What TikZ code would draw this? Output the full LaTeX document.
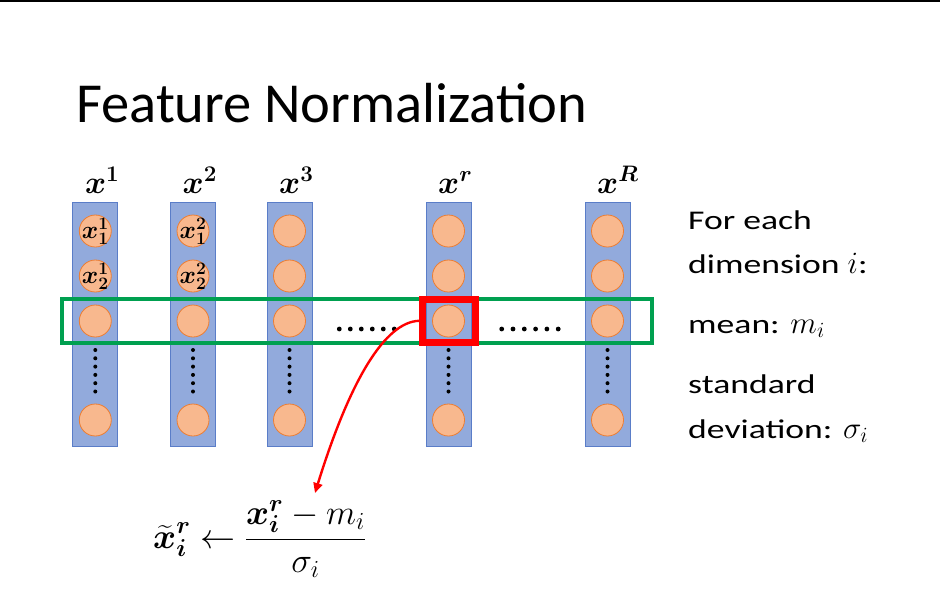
\RequirePackage{fix-cm}
\documentclass[tikz,border=0pt]{standalone}
\usepackage{amsmath}
\usepackage{bm}
\usepackage{fontspec}
\setmainfont{Carlito}
\newfontfamily\sidefont[FakeStretch=1.32]{Carlito}
\usetikzlibrary{arrows.meta}
\definecolor{barfill}{RGB}{146,170,220}
\definecolor{barline}{RGB}{90,125,200}
\definecolor{circfill}{RGB}{248,184,142}
\definecolor{circline}{RGB}{237,125,49}
\definecolor{boxgreen}{RGB}{0,160,80}
\definecolor{boxred}{RGB}{255,0,0}
\newcommand{\sidemath}[1]{{\fontsize{31}{32}\selectfont$#1$}}
\begin{document}
\begin{tikzpicture}[x=1pt,y=-1pt,
  bar/.style={draw=barline, fill=barfill, line width=0.8pt, minimum width=45pt, minimum height=244pt, inner sep=0pt},
  circ/.style={circle, draw=circline, fill=circfill, line width=0.8pt, minimum size=32pt, inner sep=0pt},
  collbl/.style={anchor=base west, inner sep=0pt, font=\fontsize{32}{36}\selectfont},
  cirlbl/.style={inner sep=0pt, font=\fontsize{25}{28}\selectfont},
  sidetext/.style={anchor=base west, inner sep=0pt, font=\fontsize{27}{32}\selectfont\sidefont},
  dotmark/.style={fill=black},
  greenbox/.style={draw=boxgreen, line width=4pt, minimum width=590pt, minimum height=44pt, inner sep=0pt},
  redbox/.style={draw=boxred, line width=7pt, minimum width=53pt, minimum height=43.5pt, inner sep=0pt},
  redarrow/.style={draw=boxred, line width=2.4pt, -{Triangle[length=10pt,width=9pt]}}
]
\useasboundingbox (0,0) rectangle (940,608);
\fill[white] (0,0) rectangle (940,608);
\draw[line width=1.6pt] (0,0.8) -- (940,0.8);

\node[anchor=base west, inner sep=0pt, font=\fontsize{56.5}{60}\selectfont] (title) at (76,122) {Feature Normalization};

\foreach \n/\cx in {1/95.3, 2/193, 3/289.5, r/448.5, R/607.5} {
  \node[bar] (bar\n) at (\cx,324) {};
  \foreach \row/\cy in {1/231, 2/276, 3/321, N/420}
    \node[circ] (c\n\row) at (\cx,\cy) {};
  \foreach \k in {0,...,5}
    \fill[dotmark] (\cx,350+\k*8.3) circle (2pt);
  \node[collbl] (lab\n) at (\cx-10.5,193) {$\bm{x^{\n}}$};
}

\node[cirlbl] (l11) at (c11) {$\bm{x^{1}_{1}}$};
\node[cirlbl] (l12) at (c12) {$\bm{x^{1}_{2}}$};
\node[cirlbl] (l21) at (c21) {$\bm{x^{2}_{1}}$};
\node[cirlbl] (l22) at (c22) {$\bm{x^{2}_{2}}$};

\foreach \k in {0,...,5} {
  \fill[dotmark] (339.3+\k*11,329) circle (2.4pt);
  \fill[dotmark] (501.7+\k*11.3,329) circle (2.4pt);
}

\node[greenbox] (gbox) at (357,321) {};
\node[redbox] (rbox) at (449,320.8) {};

\node[sidetext] (t1) at (688,229) {For each};
\node[sidetext] (t2) at (688,273) {dimension \sidemath{i}:};
\node[sidetext] (t3) at (688,333) {mean: \sidemath{m_i}};
\node[sidetext] (t4) at (688,393) {standard};
\node[sidetext] (t5) at (688,438) {deviation: \sidemath{\sigma_i}};

\node[anchor=base west, inner sep=0pt, font=\fontsize{35}{40}\selectfont] (formula) at (153,548)
  {$\displaystyle \bm{\widetilde{x}}^{\bm{r}}_{\bm{i}} \leftarrow \frac{\bm{x}^{\bm{r}}_{\bm{i}} - m_i}{\sigma_i}$};

\coordinate (arrowend) at (315,493);
\draw[redarrow] (rbox.west) .. controls (385,322) and (350,380) .. (arrowend);
\end{tikzpicture}
\end{document}
